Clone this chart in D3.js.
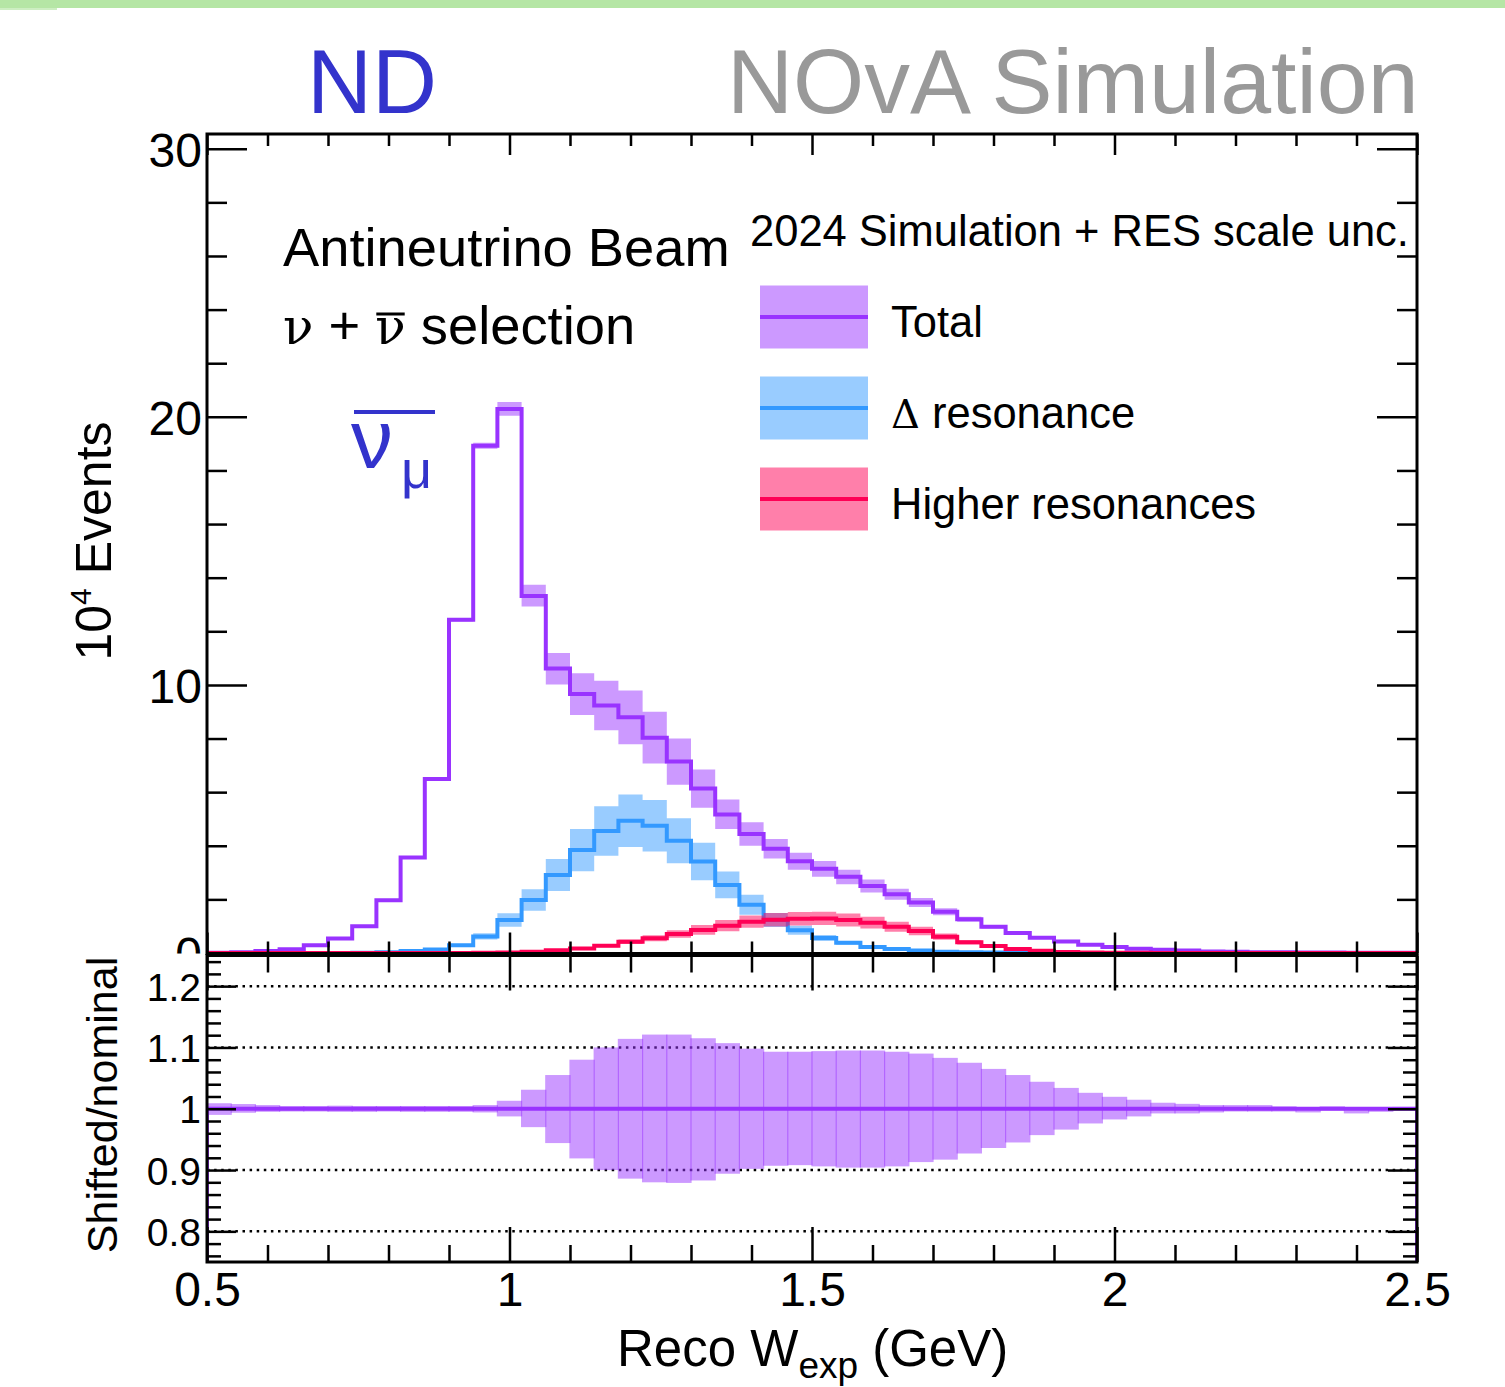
<!DOCTYPE html>
<html><head><meta charset="utf-8">
<script src="https://cdn.jsdelivr.net/npm/d3@7"></script>
<style>
html,body{margin:0;padding:0;background:#fff;}
svg{display:block;}
text{font-family:"Liberation Sans",Arial,Helvetica,sans-serif;fill:#000;}
</style></head><body>
<svg id="c" width="1505" height="1387"></svg>
<script>
// ---------------- DATA ----------------
const binEdges = [0.50,0.54,0.58,0.62,0.66,0.70,0.74,0.78,0.82,0.86,0.90,0.94,0.98,1.02,1.06,1.10,1.14,1.18,1.22,1.26,
  1.30,1.34,1.38,1.42,1.46,1.50,1.54,1.58,1.62,1.66,1.70,1.74,1.78,1.82,1.86,1.90,1.94,1.98,2.02,2.06,
  2.10,2.14,2.18,2.22,2.26,2.30,2.34,2.38,2.42,2.46,2.50];
// Total (10^4 events)
const total = [0.01,0.03,0.07,0.14,0.29,0.54,1.00,1.97,3.56,6.49,
  12.43,18.92,20.29,13.32,10.61,9.66,9.23,8.79,8.03,7.14,
  6.14,5.17,4.44,3.89,3.42,3.14,2.84,2.50,2.19,1.88,
  1.54,1.26,0.98,0.75,0.57,0.43,0.31,0.22,0.16,0.12,
  0.09,0.06,0.045,0.03,0.025,0.02,0.015,0.01,0.008,0.005];
// relative shifted/nominal up / down for Total
const totalRelUp = [0.009,0.0077,0.006,0.0045,0.0045,0.005,0.0045,0.0045,0.0045,0.0045,
  0.0045,0.006,0.013,0.031,0.055,0.080,0.100,0.114,0.121,0.121,
  0.115,0.107,0.098,0.093,0.093,0.094,0.095,0.095,0.093,0.090,
  0.083,0.075,0.065,0.055,0.044,0.034,0.026,0.0195,0.0147,0.0098,
  0.008,0.006,0.006,0.006,0.004,0.002,0.004,0.002,0.002,0.003];
const totalRelDown = [0.010,0.0065,0.005,0.0045,0.0045,0.005,0.005,0.0045,0.005,0.005,
  0.005,0.006,0.0125,0.030,0.056,0.081,0.100,0.114,0.120,0.121,
  0.117,0.106,0.098,0.093,0.092,0.094,0.096,0.096,0.094,0.087,
  0.083,0.073,0.064,0.055,0.043,0.034,0.024,0.0174,0.0125,0.0076,
  0.0076,0.006,0.0045,0.0045,0.0045,0.006,0.003,0.0076,0.005,0.003];
// Delta resonance
const delta = [0,0,0,0,0,0,0.01,0.03,0.07,0.13,
  0.29,0.62,1.23,1.98,2.91,3.84,4.55,4.93,4.75,4.19,
  3.41,2.54,1.80,1.23,0.85,0.56,0.38,0.22,0.15,0.09,
  0.05,0.03,0.02,0.01,0.005,0,0,0,0,0,
  0,0,0,0,0,0,0,0,0,0];
const deltaErr = [0,0,0,0,0,0,0,0.005,0.01,0.02,
  0.05,0.12,0.25,0.40,0.60,0.79,0.92,0.98,0.96,0.84,
  0.70,0.50,0.37,0.26,0.17,0.11,0.07,0.04,0.03,0.02,
  0.01,0.005,0,0,0,0,0,0,0,0,
  0,0,0,0,0,0,0,0,0,0];
// Higher resonances
const higher = [0,0,0,0,0,0,0,0,0,0,
  0,0.01,0.02,0.05,0.10,0.17,0.27,0.42,0.55,0.71,
  0.86,1.02,1.17,1.24,1.28,1.29,1.23,1.13,0.98,0.82,
  0.61,0.40,0.26,0.15,0.08,0.04,0.02,0.01,0.005,0,
  0,0,0,0,0,0,0,0,0,0];
const higherErr = [0,0,0,0,0,0,0,0,0,0,
  0,0.002,0.004,0.01,0.02,0.035,0.055,0.085,0.11,0.14,
  0.18,0.21,0.23,0.25,0.25,0.25,0.24,0.22,0.19,0.16,
  0.12,0.08,0.05,0.03,0.015,0.008,0.004,0.002,0,0,
  0,0,0,0,0,0,0,0,0,0];

const xMajor = [0.5,1,1.5,2,2.5];
const xLabels = ["0.5","1","1.5","2","2.5"];
const xMinor = [0.6,0.7,0.8,0.9,1.1,1.2,1.3,1.4,1.6,1.7,1.8,1.9,2.1,2.2,2.3,2.4];
const yMajor = [0,10,20,30];
const yLabels = ["0","10","20","30"];
const yMinor = [2,4,6,8,12,14,16,18,22,24,26,28];
const rMajor = [0.8,0.9,1.0,1.1,1.2];
const rLabels = ["0.8","0.9","1","1.1","1.2"];
const rMinor = [0.76,0.78,0.82,0.84,0.86,0.88,0.92,0.94,0.96,0.98,1.02,1.04,1.06,1.08,1.12,1.14,1.16,1.18,1.22,1.24];
const rGrid = [0.8,0.9,1.0,1.1,1.2];

const series = [
  {name:"Total", vals: total, lo: total.map((v,i)=>v*(1-totalRelDown[i])), hi: total.map((v,i)=>v*(1+totalRelUp[i])), color:"#9933ff"},
  {name:"Δ resonance", vals: delta, lo: delta.map((v,i)=>v-deltaErr[i]), hi: delta.map((v,i)=>v+deltaErr[i]), color:"#3399ff"},
  {name:"Higher resonances", vals: higher, lo: higher.map((v,i)=>v-higherErr[i]), hi: higher.map((v,i)=>v+higherErr[i]), color:"#ff0055"}
];

// ---------------- LAYOUT ----------------
const L = 207, R = 1417;
const mTop = 134, mBot = 953.5;
const rTop = 955.5, rBot = 1262;
const SANS = "Liberation Sans, Arial, sans-serif";
const SERIF = "DejaVu Serif, Liberation Serif, serif";
const svg = d3.select("#c");
const x = d3.scaleLinear().domain([0.5,2.5]).range([L,R]);
const y = d3.scaleLinear().domain([0,30.55]).range([953,mTop]);
const yr = d3.scaleLinear().domain([0.75,1.25]).range([rBot,rTop]);

// top green bar
svg.append("rect").attr("x",0).attr("y",0).attr("width",1505).attr("height",8).attr("fill","#b5e6a5");
svg.append("rect").attr("x",0).attr("y",8).attr("width",57).attr("height",2).attr("fill","#cdeec2");

const defs = svg.append("defs");
defs.append("clipPath").attr("id","mclip").append("rect").attr("x",L).attr("y",mTop).attr("width",R-L).attr("height",mBot-mTop);
defs.append("clipPath").attr("id","rclip").append("rect").attr("x",L).attr("y",rTop).attr("width",R-L).attr("height",rBot-rTop);
defs.append("clipPath").attr("id","lclip").append("rect").attr("x",0).attr("y",0).attr("width",L).attr("height",953.5);

function stepLine(vals, ys){
  let d = `M${x(binEdges[0])},${ys(0)}`;
  vals.forEach((v,i)=>{ d += `L${x(binEdges[i])},${ys(v)}L${x(binEdges[i+1])},${ys(v)}`; });
  d += `L${x(binEdges[binEdges.length-1])},${ys(0)}`;
  return d;
}
function bandPath(lo, hi, ys){
  let d = "";
  hi.forEach((v,i)=>{ d += (i===0?"M":"L") + `${x(binEdges[i])},${ys(v)}L${x(binEdges[i+1])},${ys(v)}`; });
  for(let i=lo.length-1;i>=0;i--){ d += `L${x(binEdges[i+1])},${ys(lo[i])}L${x(binEdges[i])},${ys(lo[i])}`; }
  return d + "Z";
}

// ---------------- MAIN PANEL ----------------
const gm = svg.append("g").attr("clip-path","url(#mclip)");
series.forEach(s=>{
  gm.append("path").attr("d",bandPath(s.lo,s.hi,y)).attr("fill",s.color).attr("fill-opacity",0.5).attr("stroke","none");
  gm.append("path").attr("d",stepLine(s.vals,y)).attr("fill","none").attr("stroke",s.color).attr("stroke-width",4).attr("stroke-linejoin","miter");
});

function styleAxis(g){
  g.select(".domain").remove();
  g.selectAll("line").attr("stroke","#000").attr("stroke-width",2.5);
  g.selectAll("text").remove();
}
function tickSet(tx, ty, gen, vals, size){
  const g = svg.append("g").attr("transform",`translate(${tx},${ty})`).call(gen.tickValues(vals).tickSize(size).tickFormat(""));
  styleAxis(g);
}
// main ticks
tickSet(0,mBot, d3.axisBottom(x), xMajor, -21);
tickSet(0,mBot, d3.axisBottom(x), xMinor, -12);
tickSet(0,mTop, d3.axisTop(x), xMajor, -21);
tickSet(0,mTop, d3.axisTop(x), xMinor, -12);
tickSet(L,0, d3.axisLeft(y), yMajor, -40);
tickSet(L,0, d3.axisLeft(y), yMinor, -20);
tickSet(R,0, d3.axisRight(y), yMajor, -40);
tickSet(R,0, d3.axisRight(y), yMinor, -20);

// main y labels (the "0" is partly hidden by the lower pad, as in the original)
const ylOuter = svg.append("g").attr("clip-path","url(#lclip)");
const yl = ylOuter.append("g").attr("transform",`translate(${L},0)`)
  .call(d3.axisLeft(y).tickValues(yMajor).tickSize(0).tickPadding(5).tickFormat((d,i)=>yLabels[i]));
yl.select(".domain").remove();
yl.selectAll("text").attr("font-size",48).attr("font-family",SANS).attr("fill","#000").attr("dy","0.36em");

// main frame
svg.append("rect").attr("x",L).attr("y",mTop).attr("width",R-L).attr("height",mBot-mTop)
  .attr("fill","none").attr("stroke","#000").attr("stroke-width",3);

// ---------------- RATIO PANEL ----------------
const gr = svg.append("g").attr("clip-path","url(#rclip)");
rGrid.forEach(v=>{
  gr.append("line").attr("x1",L).attr("x2",R).attr("y1",yr(v)).attr("y2",yr(v))
    .attr("stroke","#000").attr("stroke-width",2.5).attr("stroke-dasharray","2.5 4.6");
});
total.forEach((v,i)=>{
  const up = 1 + totalRelUp[i], dn = 1 - totalRelDown[i];
  gr.append("rect").attr("x",x(binEdges[i])-0.6).attr("width",x(binEdges[i+1])-x(binEdges[i])+1.2)
    .attr("y",yr(up)).attr("height",yr(dn)-yr(up)).attr("fill","#9933ff").attr("fill-opacity",0.5);
});
const ratioNominal = total.map(v=>v/v);
gr.append("path").attr("d",stepLine(ratioNominal,yr)).attr("fill","none").attr("stroke","#9933ff").attr("stroke-width",4);

tickSet(0,rTop, d3.axisTop(x), xMajor, -35);
tickSet(0,rTop, d3.axisTop(x), xMinor, -17);
tickSet(0,rBot, d3.axisBottom(x), xMajor, -35);
tickSet(0,rBot, d3.axisBottom(x), xMinor, -17);
tickSet(L,0, d3.axisLeft(yr), rMajor, -29);
tickSet(L,0, d3.axisLeft(yr), rMinor, -14);
tickSet(R,0, d3.axisRight(yr), rMajor, -29);
tickSet(R,0, d3.axisRight(yr), rMinor, -14);

svg.append("rect").attr("x",L).attr("y",rTop).attr("width",R-L).attr("height",rBot-rTop)
  .attr("fill","none").attr("stroke","#000").attr("stroke-width",3);

const rl = svg.append("g").attr("transform",`translate(${L},0)`)
  .call(d3.axisLeft(yr).tickValues(rMajor).tickSize(0).tickPadding(6).tickFormat((d,i)=>rLabels[i]));
rl.select(".domain").remove();
rl.selectAll("text").attr("font-size",39).attr("font-family",SANS).attr("fill","#000").attr("dy","0.36em");

const xl = svg.append("g").attr("transform",`translate(0,${rBot})`)
  .call(d3.axisBottom(x).tickValues(xMajor).tickSize(0).tickPadding(0).tickFormat((d,i)=>xLabels[i]));
xl.select(".domain").remove();
xl.selectAll("text").attr("font-size",48).attr("font-family",SANS).attr("fill","#000").attr("dy",null).attr("y",44);

// ---------------- TEXTS ----------------
svg.append("text").attr("x",307).attr("y",113).attr("font-size",90).style("fill","#3333cc").text("ND");
svg.append("text").attr("x",727).attr("y",113).attr("font-size",91.5).style("fill","#999999").text("NOvA Simulation");

svg.append("text").attr("x",283).attr("y",266).attr("font-size",54.3).text("Antineutrino Beam");
const sel = svg.append("text").attr("x",283).attr("y",344).attr("font-size",54.3);
sel.append("tspan").attr("font-family",SERIF).attr("font-size",50).text("ν");
sel.append("tspan").text(" + ");
sel.append("tspan").attr("font-family",SERIF).attr("font-size",50).text("ν");
sel.append("tspan").text(" selection");
{
  const ext = sel.node().getExtentOfChar(4);
  svg.append("line").attr("x1",ext.x+1).attr("x2",ext.x+ext.width-1).attr("y1",314).attr("y2",314)
    .attr("stroke","#000").attr("stroke-width",3);
}

// nu-mu-bar label
svg.append("text").attr("x",351).attr("y",468).attr("font-size",84)
  .attr("font-family",SERIF).style("fill","#3333cc").text("ν");
svg.append("text").attr("x",401).attr("y",488).attr("font-size",54)
  .attr("font-family",SERIF).style("fill","#3333cc").text("μ");
svg.append("line").attr("x1",354).attr("x2",435).attr("y1",412).attr("y2",412).attr("stroke","#3333cc").attr("stroke-width",4);

// legend
svg.append("text").attr("x",750).attr("y",246).attr("font-size",43.5).text("2024 Simulation + RES scale unc.");
const legY = [317, 408, 499];
series.forEach((s,i)=>{
  svg.append("rect").attr("x",760).attr("y",legY[i]-31.5).attr("width",108).attr("height",63)
    .attr("fill",s.color).attr("fill-opacity",0.5);
  svg.append("line").attr("x1",760).attr("x2",868).attr("y1",legY[i]).attr("y2",legY[i])
    .attr("stroke",s.color).attr("stroke-width",4);
});
svg.append("text").attr("x",891).attr("y",337).attr("font-size",43.5).text("Total");
const dl = svg.append("text").attr("x",891).attr("y",428).attr("font-size",43.5);
dl.append("tspan").attr("font-family",SERIF).attr("font-size",40).text("Δ");
dl.append("tspan").text(" resonance");
svg.append("text").attr("x",891).attr("y",519).attr("font-size",43.5).text("Higher resonances");

// axis titles
const yt = svg.append("text").attr("transform","translate(111,541) rotate(-90)").attr("text-anchor","middle").attr("font-size",50);
yt.append("tspan").text("10");
yt.append("tspan").attr("font-size",30).attr("dy",-20).text("4");
yt.append("tspan").attr("dy",20).text(" Events");

svg.append("text").attr("transform","translate(117,1105) rotate(-90)").attr("text-anchor","middle").attr("font-size",43).text("Shifted/nominal");

const xt = svg.append("text").attr("x",617).attr("y",1366).attr("font-size",51);
xt.append("tspan").text("Reco W");
xt.append("tspan").attr("font-size",37).attr("dy",12).text("exp");
xt.append("tspan").attr("dy",-12).text(" (GeV)");
</script>
</body></html>
